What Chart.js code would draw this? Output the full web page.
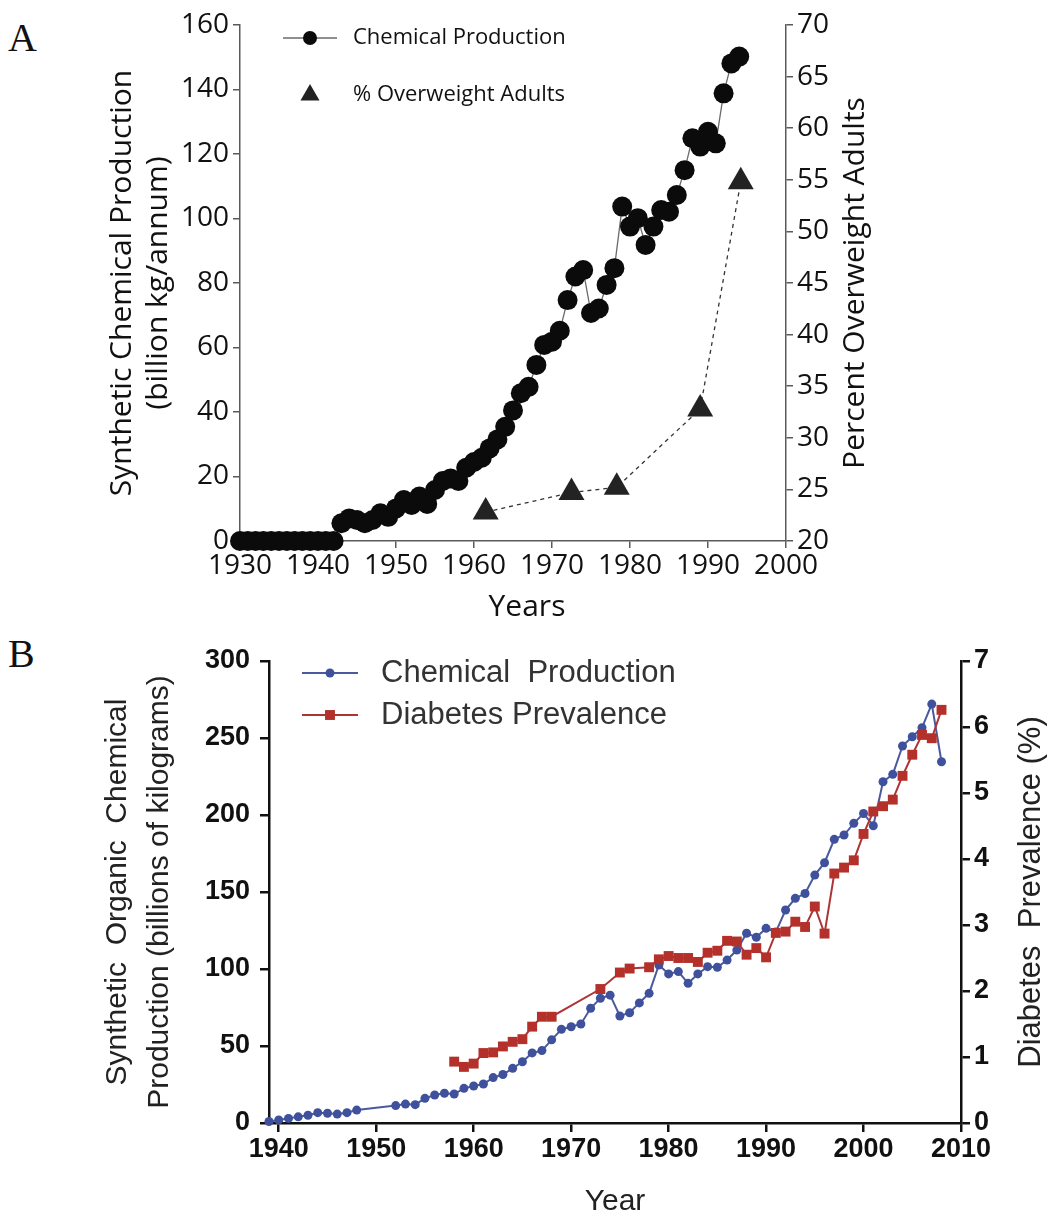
<!DOCTYPE html>
<html>
<head>
<meta charset="utf-8">
<script src="https://cdn.jsdelivr.net/npm/chart.js@4.4.0/dist/chart.umd.min.js"></script>
<style>
  body { margin: 0; background: #fff; width: 1053px; height: 1217px; position: relative; overflow: hidden; }
  .wrap { position: absolute; left: 0; width: 1053px; }
  .letter { position: absolute; left: 8px; font-family: "Liberation Serif", serif; font-size: 40px; line-height: 40px; color: #111; }
</style>
</head>
<body>
<div class="letter" style="top:18px">A</div>
<div class="letter" style="top:634px">B</div>
<div class="wrap" style="top:0"><canvas id="chartA" width="1053" height="625"></canvas></div>
<div class="wrap" style="top:630px"><canvas id="chartB" width="1053" height="587"></canvas></div>
<script>
// ---- panel A data ----
var yearsA = [1930, 1931, 1932, 1933, 1934, 1935, 1936, 1937, 1938, 1939, 1940, 1941, 1942,
  1943, 1944, 1945, 1946, 1947, 1948, 1949, 1950, 1951, 1952, 1953, 1954, 1955, 1956, 1957, 1958, 1959,
  1960, 1961, 1962, 1963, 1964, 1965, 1966, 1967, 1968, 1969, 1970, 1971, 1972, 1973, 1974, 1975, 1976,
  1977, 1978, 1979, 1980, 1981, 1982, 1983, 1984, 1985, 1986, 1987, 1988, 1989, 1990, 1991, 1992, 1993, 1994];
var chemA = [0, 0, 0, 0, 0, 0, 0, 0, 0, 0, 0, 0, 0,
  5.5, 7, 6.5, 5.5, 6.5, 8.6, 7.5, 10.1, 12.7, 11.2, 13.8, 11.5, 15.8, 18.6, 19.4, 18.6, 22.7,
  24.5, 25.8, 28.7, 31.5, 35.4, 40.5, 45.8, 47.8, 54.6, 60.8, 61.8, 65.2, 74.7, 82, 84, 70.7, 72.1,
  79.4, 84.6, 103.7, 97.5, 100.1, 91.8, 97.5, 102.6, 102.1, 107.3, 115, 124.9, 122.3, 126.9, 123.3, 138.8, 148.1, 150.2];
var overweightYears = [1961.5, 1972.5, 1978.3, 1989, 1994.2];
var overweightPct = [22.8, 24.7, 25.2, 32.8, 54.8];

// ---- panel B data ----
var yearsB = [1939, 1940, 1941, 1942, 1943, 1944, 1945, 1946, 1947, 1948,
  1952, 1953, 1954, 1955, 1956, 1957, 1958, 1959, 1960, 1961, 1962, 1963, 1964, 1965, 1966, 1967, 1968, 1969,
  1970, 1971, 1972, 1973, 1974, 1975, 1976, 1977, 1978, 1979, 1980, 1981, 1982, 1983, 1984, 1985, 1986, 1987,
  1988, 1989, 1990, 1991, 1992, 1993, 1994, 1995, 1996, 1997, 1998, 1999, 2000, 2001, 2002, 2003, 2004, 2005,
  2006, 2007, 2008];
var chemB = [1, 2, 3, 4, 5, 6.7, 6.3, 5.8, 6.7, 8.4,
  11.3, 12.3, 11.9, 16, 18.2, 19.3, 18.8, 22.5, 24, 25.3, 29.5, 31.5, 35.5, 39.8, 45.5, 47, 54, 60.8,
  62.5, 64.3, 74.5, 81, 83, 69.5, 71.6, 78, 84.2, 102.6, 96.8, 98.3, 90.7, 96.8, 101.5, 101.1, 105.8, 112.3,
  123.2, 120.6, 126.4, 124, 138.3, 145.9, 149, 161, 169, 184.2, 187, 194.6, 201, 193, 221.6, 226.4, 244.8, 250.8,
  256.7, 272, 234.6];
var diabetesYears = [1958, 1959, 1960, 1961, 1962, 1963, 1964, 1965, 1966, 1967, 1968, 1973, 1975, 1976,
  1978, 1979, 1980, 1981, 1982, 1983, 1984, 1985, 1986, 1987, 1988, 1989, 1990, 1991, 1992, 1993, 1994,
  1995, 1996, 1997, 1998, 1999, 2000, 2001, 2002, 2003, 2004, 2005, 2006, 2007, 2008];
var diabetesPct = [0.93, 0.85, 0.9, 1.06, 1.07, 1.16, 1.23, 1.27, 1.46, 1.61, 1.61, 2.03, 2.28, 2.34,
  2.36, 2.48, 2.53, 2.5, 2.5, 2.44, 2.58, 2.61, 2.76, 2.75, 2.55, 2.65, 2.51, 2.88, 2.9, 3.05, 2.97,
  3.28, 2.87, 3.78, 3.87, 3.98, 4.38, 4.72, 4.8, 4.9, 5.26, 5.58, 5.88, 5.83, 6.26];

function pairs(xs, ys) {
  return xs.map((x, i) => ({ x: x, y: ys[i] }));
}

function sideTitle(ctx, text, x, y, font, color, angle) {
  ctx.save();
  ctx.translate(x, y);
  ctx.rotate(angle);
  ctx.font = font;
  ctx.fillStyle = color;
  ctx.textAlign = "center";
  ctx.textBaseline = "middle";
  ctx.fillText(text, 0, 0);
  ctx.restore();
}

function legendRow(ctx, ds, x0, x1, y, markerR, text, font, color, withLine, gap) {
  ctx.save();
  if (withLine) {
    ctx.strokeStyle = ds.borderColor;
    ctx.lineWidth = ds.borderWidth;
    ctx.beginPath();
    ctx.moveTo(x0, y);
    ctx.lineTo(x1, y);
    ctx.stroke();
  }
  ctx.fillStyle = ds.pointBackgroundColor;
  ctx.strokeStyle = ds.pointBorderColor;
  Chart.helpers.drawPoint(ctx, { pointStyle: ds.pointStyle || "circle", radius: markerR, rotation: 0, borderWidth: 0 }, (x0 + x1) / 2, y);
  ctx.font = font;
  ctx.fillStyle = color;
  ctx.textAlign = "left";
  ctx.textBaseline = "middle";
  ctx.fillText(text, x1 + gap, y);
  ctx.restore();
}

// ================= Panel A =================
var fontA = "Open Sans";
var inkA = "#111";
var axisA = "#5a5a5a";

var decorA = {
  id: "decorA",
  afterDraw(chart) {
    var ctx = chart.ctx;
    var ds = chart.data.datasets;
    legendRow(ctx, ds[0], 283, 337, 38, 7, "Chemical Production", "22px " + fontA, inkA, true, 16);
    legendRow(ctx, ds[1], 283, 337, 95, 11, "% Overweight Adults", "22px " + fontA, inkA, false, 16);
    sideTitle(ctx, "Percent Overweight Adults", 855, 283, "30px " + fontA, inkA, -Math.PI / 2);
    sideTitle(ctx, "Years", 527, 607, "30px " + fontA, inkA, 0);
  }
};

function axisStyleA(extra) {
  return Object.assign({
    grid: { drawOnChartArea: false, drawTicks: true, tickLength: 7, color: axisA, lineWidth: 1.5 },
    border: { display: true, color: axisA, width: 1.5 },
  }, extra);
}

new Chart(document.getElementById("chartA"), {
  type: "line",
  data: {
    datasets: [
      {
        label: "Chemical Production",
        data: pairs(yearsA, chemA),
        yAxisID: "y",
        borderColor: "#6a6a6a",
        borderWidth: 1.3,
        pointRadius: 10,
        pointBackgroundColor: "#0b0b0b",
        pointBorderColor: "#0b0b0b",
        pointBorderWidth: 0,
        clip: false,
      },
      {
        label: "% Overweight Adults",
        data: pairs(overweightYears, overweightPct),
        yAxisID: "y1",
        borderColor: "#333",
        borderWidth: 1.3,
        borderDash: [4, 4],
        pointStyle: "triangle",
        pointRadius: 15,
        pointBackgroundColor: "#232323",
        pointBorderColor: "#232323",
        pointBorderWidth: 0,
        clip: false,
      },
    ],
  },
  options: {
    responsive: false,
    animation: false,
    layout: { padding: { top: 25, left: 0, right: 0, bottom: 0 } },
    plugins: { legend: { display: false }, tooltip: { enabled: false } },
    scales: {
      x: axisStyleA({
        type: "linear",
        min: 1930,
        max: 2000,
        ticks: { stepSize: 10, autoSkip: false, maxRotation: 0, padding: 1, color: inkA, font: { family: fontA, size: 28 }, callback: (v) => String(v) },
        afterFit: (s) => { s.height = 84; },
      }),
      y: axisStyleA({
        position: "left",
        min: 0,
        max: 160,
        ticks: { stepSize: 20, padding: 4, color: inkA, font: { family: fontA, size: 28 } },
        title: {
          display: true,
          text: ["Synthetic Chemical Production", "(billion kg/annum)"],
          color: inkA,
          font: { family: fontA, size: 30, lineHeight: 1.2 },
          padding: { top: 104, bottom: 0 },
        },
        afterFit: (s) => { s.width = 240; },
      }),
      y1: axisStyleA({
        position: "right",
        min: 20,
        max: 70,
        ticks: { stepSize: 5, padding: 4, color: inkA, font: { family: fontA, size: 28 } },
        afterFit: (s) => { s.width = 267; },
      }),
    },
  },
  plugins: [decorA],
});

// ================= Panel B =================
var fontB = "Liberation Sans";
var blue = "#3f519c";
var red = "#b3302b";

var decorB = {
  id: "decorB",
  afterDraw(chart) {
    var ctx = chart.ctx;
    var ds = chart.data.datasets;
    // legend lists chemical first
    legendRow(ctx, ds[1], 302, 358, 43, 4.5, "Chemical  Production", "31px " + fontB, "#333", true, 23);
    legendRow(ctx, ds[0], 302, 358, 85, 7, "Diabetes Prevalence", "31px " + fontB, "#333", true, 23);
    sideTitle(ctx, "Diabetes  Prevalence (%)", 1031, 262, "31px " + fontB, "#222", -Math.PI / 2);
  }
};

function axisStyleB(extra) {
  return Object.assign({
    grid: { drawOnChartArea: false, drawTicks: true, tickLength: 9, color: "#111", lineWidth: 2.5 },
    border: { display: true, color: "#111", width: 2.5 },
  }, extra);
}

var tickFontB = { family: fontB, size: 27, weight: "bold" };

new Chart(document.getElementById("chartB"), {
  type: "line",
  data: {
    datasets: [
      {
        label: "Diabetes Prevalence",
        data: pairs(diabetesYears, diabetesPct),
        yAxisID: "y1",
        order: 0,
        borderColor: "#ad3434",
        borderWidth: 2,
        pointStyle: "rect",
        pointRadius: 7,
        pointBackgroundColor: red,
        pointBorderColor: red,
        pointBorderWidth: 0,
        clip: false,
      },
      {
        label: "Chemical Production",
        data: pairs(yearsB, chemB),
        yAxisID: "y",
        order: 1,
        borderColor: "#4a5a9c",
        borderWidth: 2,
        pointRadius: 4.5,
        pointBackgroundColor: blue,
        pointBorderColor: blue,
        pointBorderWidth: 0,
        clip: false,
      },
    ],
  },
  options: {
    responsive: false,
    animation: false,
    layout: { padding: { top: 31, left: 0, right: 0, bottom: 0 } },
    plugins: { legend: { display: false }, tooltip: { enabled: false } },
    scales: {
      x: axisStyleB({
        type: "linear",
        min: 1939,
        max: 2010,
        afterBuildTicks: (s) => { s.ticks = [1940, 1950, 1960, 1970, 1980, 1990, 2000, 2010].map((v) => ({ value: v })); },
        ticks: { autoSkip: false, maxRotation: 0, padding: 1, color: "#111", font: tickFontB, callback: (v) => String(v) },
        title: { display: true, text: "Year", color: "#222", font: { family: fontB, size: 30, lineHeight: 1 }, padding: { top: 0, bottom: 0 } },
        afterFit: (s) => { s.height = 94; },
      }),
      y: axisStyleB({
        position: "left",
        min: 0,
        max: 300,
        ticks: { stepSize: 50, padding: 10, color: "#111", font: tickFontB },
        title: {
          display: true,
          text: ["Synthetic  Organic  Chemical", "Production (billions of kilograms)"],
          color: "#222",
          font: { family: fontB, size: 30, lineHeight: 1.4 },
          padding: { top: 97, bottom: 0 },
        },
        afterFit: (s) => { s.width = 269; },
      }),
      y1: axisStyleB({
        position: "right",
        min: 0,
        max: 7,
        ticks: { stepSize: 1, padding: 4, color: "#111", font: tickFontB },
        afterFit: (s) => { s.width = 92; },
      }),
    },
  },
  plugins: [decorB],
});
</script>
</body>
</html>
